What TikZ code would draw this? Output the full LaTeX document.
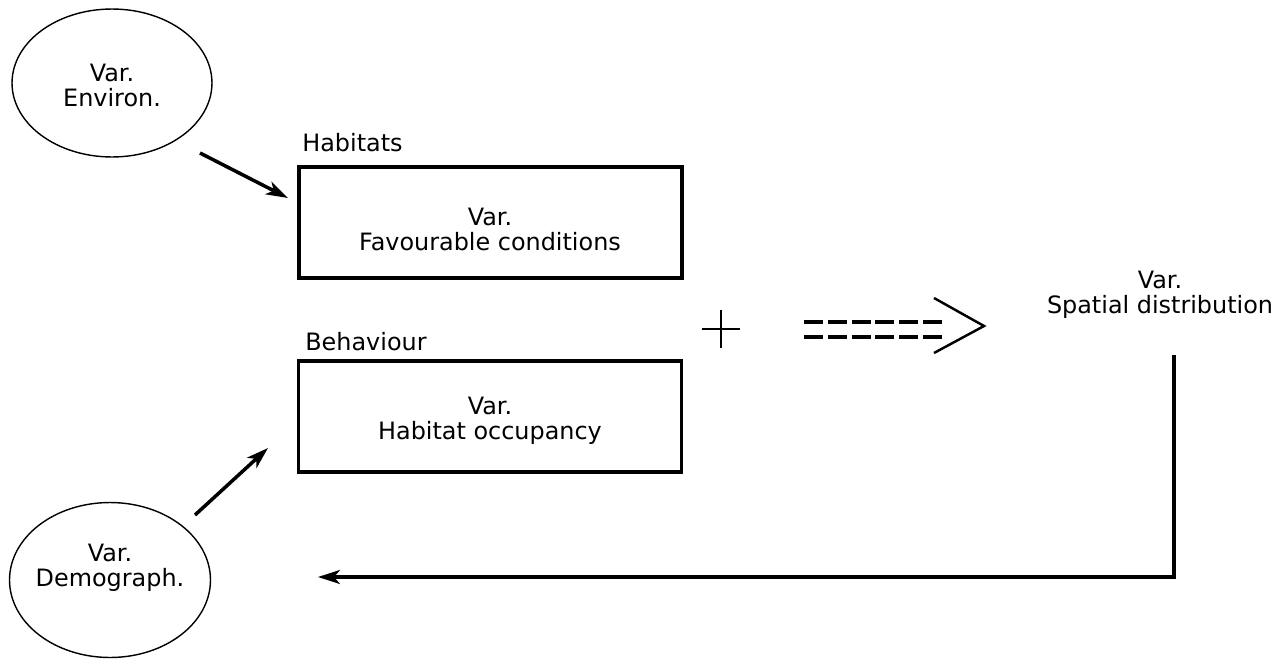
\documentclass[tikz,border=0pt]{standalone}
\usepackage{fontspec}
\setmainfont{DejaVu Sans}
\usetikzlibrary{arrows.meta,shapes.geometric}
\begin{document}
\begin{tikzpicture}[x=0.02cm,y=-0.02cm,
  txt/.style={align=center, font=\fontsize{13.6pt}{14.23pt}\selectfont, inner sep=0pt},
  lbl/.style={anchor=west, font=\fontsize{13.6pt}{14.23pt}\selectfont, inner sep=0pt},
  ell/.style={draw, ellipse, line width=0.8pt, inner sep=0pt},
  boxx/.style={draw, rectangle, line width=2pt, minimum width=7.66cm, minimum height=2.22cm, inner sep=0pt},
  tip/.style={-{Stealth[length=0.44cm,width=0.28cm,inset=0.12cm]}},
  arr/.style={line width=2pt, tip},
  dashline/.style={line width=1.8pt, dash pattern=on 0.38cm off 0.096cm},
  thinline/.style={line width=1.4pt}]
\useasboundingbox (0,0) rectangle (1284,659);
% ellipses
\node[ell, minimum width=4cm, minimum height=2.96cm] (env) at (112,83) {};
\node[txt] (envt) at (112,85) {Var.\\Environ.};
\node[ell, minimum width=4.02cm, minimum height=3.1cm] (dem) at (110,580) {};
\node[txt] (demt) at (110,568) {Var.\\Demograph.};
% boxes
\node[boxx] (fav) at (490.5,222.5) {};
\node[txt] (favt) at (490,229) {Var.\\Favourable conditions};
\node[lbl] (habl) at (302,143) {Habitats};
\node[boxx] (occ) at (490,416.5) {};
\node[txt] (occt) at (490,421) {Var.\\Habitat occupancy};
\node[lbl] (behl) at (305,342) {Behaviour};
% spatial distribution
\node[txt] (spat) at (1160,295) {Var.\\Spatial distribution};
% arrows into boxes
\coordinate (a1s) at (200,153);
\coordinate (a1e) at (288,198);
\draw[arr] (a1s) -- (a1e);
\coordinate (a2s) at (195,515);
\coordinate (a2e) at (268,448);
\draw[arr] (a2s) -- (a2e);
% plus sign
\coordinate (plus) at (721,329);
\draw[thinline] ([xshift=-0.38cm]plus) -- ([xshift=0.38cm]plus)
                ([yshift=-0.38cm]plus) -- ([yshift=0.38cm]plus);
% double dashed arrow
\draw[dashline] (804,322) -- (942,322);
\draw[dashline] (804,337) -- (942,337);
\draw[thinline] (934,298) -- (984,326) -- (934,353);
% feedback
\coordinate (fb0) at (1174,355);
\coordinate (fb1) at (318,577);
\draw[line width=1.8pt, tip] (fb0) |- (fb1);
\end{tikzpicture}
\end{document}
